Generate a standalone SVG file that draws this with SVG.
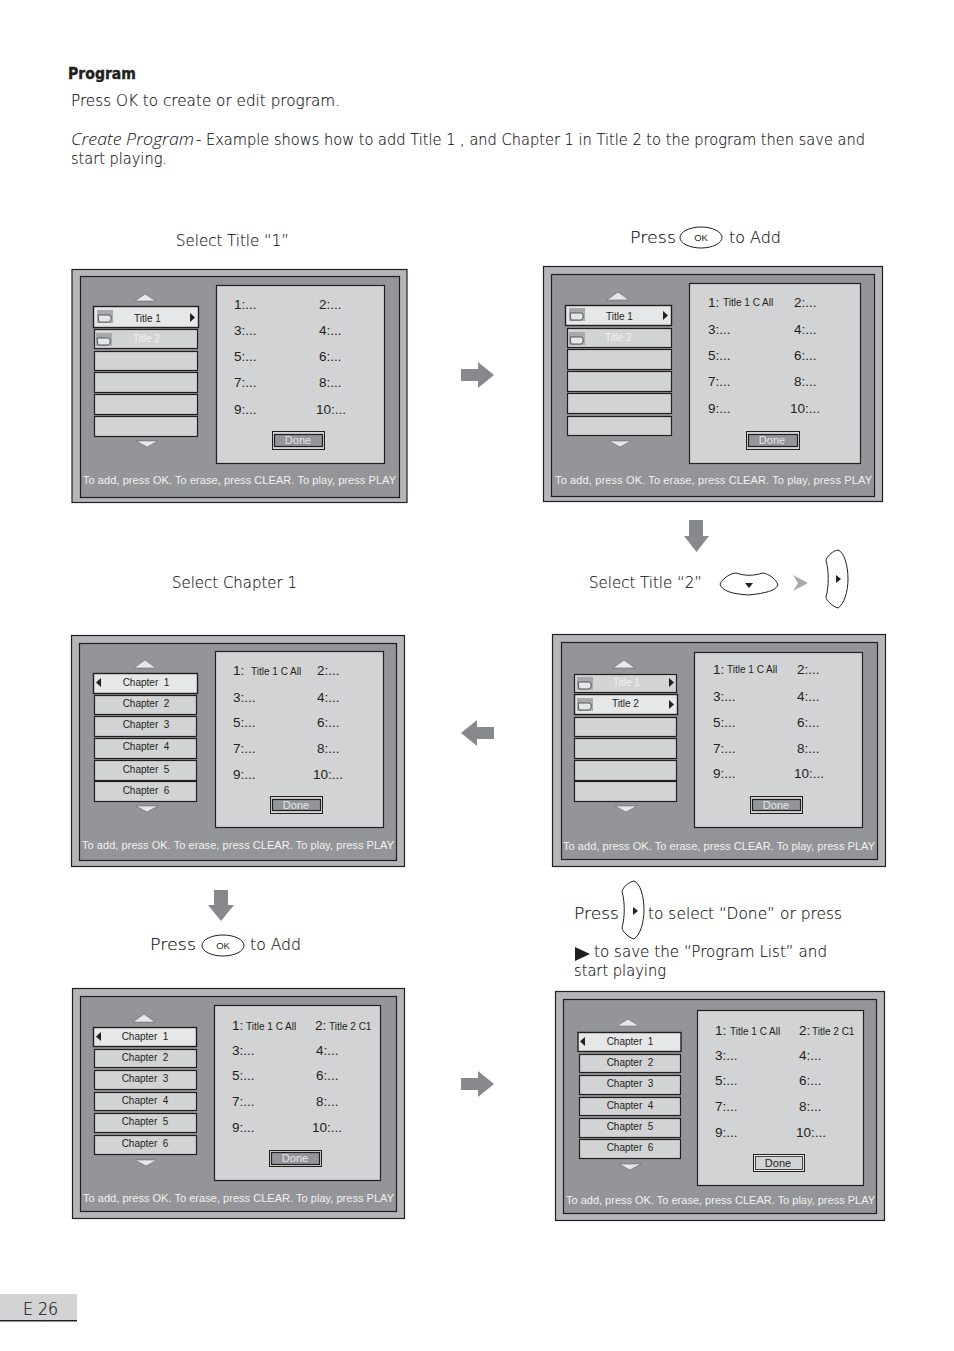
<svg xmlns="http://www.w3.org/2000/svg" xmlns:xlink="http://www.w3.org/1999/xlink" width="954" height="1351" viewBox="0 0 954 1351">
<style>
text{font-family:"Liberation Sans",Arial,sans-serif;fill:#231f20}
.h{font-family:"DejaVu Sans",sans-serif;font-weight:200;font-size:15px;fill:#111;stroke:#111;stroke-width:.15}
.it{font-family:"Open Sans",sans-serif;font-weight:300;font-style:italic;font-size:16px;fill:#111}
.o{fill:#b5b6b9;stroke:#231f20;stroke-width:1.2}
.i{fill:#939598;stroke:#231f20;stroke-width:1.2}
.b{fill:#d1d3d4;stroke:#231f20;stroke-width:1.2}
.r{fill:#d1d3d4;stroke:#231f20;stroke-width:1.2}
.s{fill:#e6e7e8;stroke:#231f20;stroke-width:1.4}
.a{fill:#e6e7e8;stroke:#58595b;stroke-width:.5}
.f{font-size:11px;fill:#f1f2f2}
.n{font-size:13.5px}
.m{font-size:10px}
.t{font-size:10px;text-anchor:middle;white-space:pre}
.w{fill:#f1f2f2}
.d{fill:#939598;stroke:#231f20;stroke-width:1.2}
.df{fill:none;stroke:#231f20;stroke-width:1}
.dt{font-size:11px;fill:#e6e7e8;text-anchor:middle}
.g{fill:#87898c}
.k{fill:#231f20}
.l{fill:none;stroke:#231f20;stroke-width:1}
</style>
<defs>
<g id="fold"><rect x="0" y="0" width="16" height="13" fill="#a7a9ac"/><path d="M1 5h11l2 1v4l-2 2H2z" fill="#e6e7e8" stroke="#58595b" stroke-width="1"/></g>
<path id="rock" class="l" d="M838,550C844,552 848,565 848,579C848,592 844,604 838,608C833,607 826,600 826,597C829,585 829,572 826,560C828,555 833,551 838,550Z"/>
<g id="ok"><ellipse cx="21" cy="10.500" rx="21" ry="10.500" fill="#fff" stroke="#231f20" stroke-width="1"/><text x="21" y="14" font-size="9.500px" text-anchor="middle" fill="#414042">OK</text></g>
</defs>
<rect width="954" height="1351" fill="#fff"/>
<g id="header">
<text x="68" y="79" font-size="15px" style="font-family:'DejaVu Sans',sans-serif;font-weight:700;stroke:#231f20;stroke-width:.4" textLength="68" lengthAdjust="spacingAndGlyphs">Program</text>
<text class="h" x="71" y="106" textLength="269" lengthAdjust="spacingAndGlyphs">Press OK to create or edit program.</text>
<text class="it" x="71" y="145" textLength="123" lengthAdjust="spacingAndGlyphs">Create Program</text>
<text class="h" x="196" y="145" textLength="669" lengthAdjust="spacingAndGlyphs">- Example shows how to add Title 1 , and Chapter 1 in Title 2 to the program  then save and</text>
<text class="h" x="71" y="164" textLength="96" lengthAdjust="spacingAndGlyphs">start playing.</text>
</g>
<g id="captions">
<text class="h" x="176" y="246" textLength="113" lengthAdjust="spacingAndGlyphs">Select Title “1”</text>
<text class="h" x="630" y="243" textLength="46" lengthAdjust="spacingAndGlyphs">Press</text>
<use xlink:href="#ok" href="#ok" x="680" y="227"/>
<text class="h" x="729" y="243" textLength="52" lengthAdjust="spacingAndGlyphs">to Add</text>
<text class="h" x="172" y="588" textLength="125" lengthAdjust="spacingAndGlyphs">Select Chapter 1</text>
<text class="h" x="589" y="588" textLength="113" lengthAdjust="spacingAndGlyphs">Select Title “2”</text>
<path class="l" d="M720,584C723,578 731,573 736,573C745,576 753,576 763,573C769,574 776,579 778,585C775,591 766,593 749,595C732,594 722,591 720,584Z"/>
<path class="k" d="M745,583h8l-4,5z"/>
<path d="M793,575L808,583L793,591L798,583Z" fill="#a7a9ac"/>
<use xlink:href="#rock" href="#rock"/>
<path class="k" d="M836,575l5,4l-5,4z"/>
<text class="h" x="150" y="950" textLength="46" lengthAdjust="spacingAndGlyphs">Press</text>
<use xlink:href="#ok" href="#ok" x="202" y="935"/>
<text class="h" x="250" y="950" textLength="51" lengthAdjust="spacingAndGlyphs">to Add</text>
<text class="h" x="574" y="919" textLength="45" lengthAdjust="spacingAndGlyphs">Press</text>
<use xlink:href="#rock" href="#rock" x="-204" y="331"/>
<path class="k" d="M633,907l5,4l-5,4z"/>
<text class="h" x="648" y="919" textLength="194" lengthAdjust="spacingAndGlyphs">to select “Done” or press</text>
<path class="k" d="M575,947L590,954L575,961Z"/>
<text class="h" x="594" y="957" textLength="233" lengthAdjust="spacingAndGlyphs">to save the “Program List” and</text>
<text class="h" x="574" y="976" textLength="92" lengthAdjust="spacingAndGlyphs">start playing</text>
</g>
<g id="connectors">
<path class="g" d="M461,369H478V362L494,375L478,388V381H461Z"/>
<path class="g" d="M689,520H703V536H709L696.500,552L684,536H689Z"/>
<path class="g" d="M494,727H477V720L461,733L477,746V739H494Z"/>
<path class="g" d="M214,890H228V905H234L221,921L208,905H214Z"/>
<path class="g" d="M461,1078H478V1071L494,1084L478,1097V1090H461Z"/>
</g>
<g id="panel1">
<rect class="o" x="72" y="269.500" width="335" height="233"/><rect class="i" x="80.500" y="276.500" width="319" height="221"/><rect class="b" x="216.500" y="285.500" width="168" height="178"/>
<path class="a" d="M135,301L145,294L156,301Z"/><path class="a" d="M136,441H158L147,447Z"/>
<rect class="s" x="93.500" y="306.500" width="105" height="21"/><rect class="r" x="94.500" y="329.500" width="103" height="19"/><rect class="r" x="94.500" y="351.500" width="103" height="19"/><rect class="r" x="94.500" y="372.500" width="103" height="20"/><rect class="r" x="94.500" y="394.500" width="103" height="20"/><rect class="r" x="94.500" y="416.500" width="103" height="20"/>
<use xlink:href="#fold" href="#fold" x="97" y="310"/><use xlink:href="#fold" href="#fold" x="96" y="333"/>
<text class="m" x="134" y="322">Title 1</text><text class="m w" x="133" y="342">Title 2</text><path class="k" d="M190,313l5,4.500l-5,4.500z"/>
<text class="n" x="234" y="309">1:...</text><text class="n" x="319" y="309">2:...</text><text class="n" x="234" y="335">3:...</text><text class="n" x="319" y="335">4:...</text><text class="n" x="234" y="361">5:...</text><text class="n" x="319" y="361">6:...</text><text class="n" x="234" y="387">7:...</text><text class="n" x="319" y="387">8:...</text><text class="n" x="234" y="414">9:...</text><text class="n" x="316" y="414">10:...</text>
<rect class="df" x="272.500" y="431.500" width="52" height="18"/><rect class="d" x="274.500" y="434.500" width="48" height="12"/><text class="dt" x="298" y="444">Done</text>
<text class="f" x="83" y="484" textLength="313" lengthAdjust="spacing">To add, press OK. To erase, press CLEAR. To play, press PLAY</text>
</g>
<g id="panel2">
<rect class="o" x="543.500" y="266.500" width="339" height="235"/><rect class="i" x="551.500" y="274.500" width="323" height="222"/><rect class="b" x="689.500" y="283.500" width="171" height="180"/>
<path class="a" d="M607,300L618,292L629,300Z"/><path class="a" d="M609,441H631L620,447Z"/>
<rect class="s" x="565.500" y="305.500" width="106" height="20"/><rect class="r" x="567.500" y="328.500" width="104" height="19"/><rect class="r" x="567.500" y="349.500" width="104" height="20"/><rect class="r" x="567.500" y="371.500" width="104" height="20"/><rect class="r" x="567.500" y="393.500" width="104" height="20"/><rect class="r" x="567.500" y="416.500" width="104" height="19"/>
<use xlink:href="#fold" href="#fold" x="569" y="308"/><use xlink:href="#fold" href="#fold" x="569" y="332"/>
<text class="m" x="606" y="320">Title 1</text><text class="m w" x="605" y="341">Title 2</text><path class="k" d="M663,311l5,4.500l-5,4.500z"/>
<text class="n" x="708" y="307">1:</text><text class="m" x="723" y="306">Title 1 C All</text><text class="n" x="794" y="307">2:...</text><text class="n" x="708" y="334">3:...</text><text class="n" x="794" y="334">4:...</text><text class="n" x="708" y="360">5:...</text><text class="n" x="794" y="360">6:...</text><text class="n" x="708" y="386">7:...</text><text class="n" x="794" y="386">8:...</text><text class="n" x="708" y="413">9:...</text><text class="n" x="790" y="413">10:...</text>
<rect class="df" x="746.500" y="431.500" width="53" height="18"/><rect class="d" x="748.500" y="434.500" width="49" height="12"/><text class="dt" x="772" y="444">Done</text>
<text class="f" x="555" y="484" textLength="317" lengthAdjust="spacing">To add, press OK. To erase, press CLEAR. To play, press PLAY</text>
</g>
<g id="panel3">
<rect class="o" x="71.500" y="635.500" width="333" height="231"/><rect class="i" x="79.500" y="643.500" width="317" height="217"/><rect class="b" x="215.500" y="651.500" width="168" height="176"/>
<path class="a" d="M134,668L145,660L156,668Z"/><path class="a" d="M136,806H158L147,812Z"/>
<rect class="s" x="93.500" y="673.500" width="104" height="20"/><rect class="r" x="94.500" y="695.500" width="102" height="19"/><rect class="r" x="94.500" y="716.500" width="102" height="20"/><rect class="r" x="94.500" y="738.500" width="102" height="20"/><rect class="r" x="94.500" y="760.500" width="102" height="20"/><rect class="r" x="94.500" y="781.500" width="102" height="20"/>
<text class="t" x="146" y="686">Chapter  1</text><text class="t" x="146" y="707">Chapter  2</text><text class="t" x="146" y="728">Chapter  3</text><text class="t" x="146" y="750">Chapter  4</text><text class="t" x="146" y="773">Chapter  5</text><text class="t" x="146" y="794">Chapter  6</text><path class="k" d="M101,678l-5,4.500l5,4.500z"/>
<text class="n" x="233" y="675">1:</text><text class="m" x="251" y="675">Title 1 C All</text><text class="n" x="317" y="675">2:...</text><text class="n" x="233" y="702">3:...</text><text class="n" x="317" y="702">4:...</text><text class="n" x="233" y="727">5:...</text><text class="n" x="317" y="727">6:...</text><text class="n" x="233" y="753">7:...</text><text class="n" x="317" y="753">8:...</text><text class="n" x="233" y="779">9:...</text><text class="n" x="313" y="779">10:...</text>
<rect class="df" x="270.500" y="796.500" width="52" height="17"/><rect class="d" x="272.500" y="799.500" width="48" height="11"/><text class="dt" x="296" y="809">Done</text>
<text class="f" x="82" y="849" textLength="312" lengthAdjust="spacing">To add, press OK. To erase, press CLEAR. To play, press PLAY</text>
</g>
<g id="panel4">
<rect class="o" x="552.500" y="634.500" width="333" height="232"/><rect class="i" x="561.500" y="642.500" width="316" height="217"/><rect class="b" x="694.500" y="652.500" width="168" height="175"/>
<path class="a" d="M613,668L624,660L635,668Z"/><path class="a" d="M615,806H637L626,812Z"/>
<rect class="r" x="574.500" y="674.500" width="102" height="18"/><rect class="s" x="574.500" y="694.500" width="103" height="20"/><rect class="r" x="574.500" y="717.500" width="102" height="19"/><rect class="r" x="574.500" y="738.500" width="102" height="20"/><rect class="r" x="574.500" y="760.500" width="102" height="20"/><rect class="r" x="574.500" y="781.500" width="102" height="20"/>
<use xlink:href="#fold" href="#fold" x="577" y="677"/><use xlink:href="#fold" href="#fold" x="577" y="698"/>
<text class="m w" x="613" y="686">Title 1</text><text class="m" x="612" y="707">Title 2</text><path class="k" d="M669,678l5,4.500l-5,4.500z"/><path class="k" d="M669,700l5,4.500l-5,4.500z"/>
<text class="n" x="713" y="674">1:</text><text class="m" x="727" y="673">Title 1 C All</text><text class="n" x="797" y="674">2:...</text><text class="n" x="713" y="701">3:...</text><text class="n" x="797" y="701">4:...</text><text class="n" x="713" y="727">5:...</text><text class="n" x="797" y="727">6:...</text><text class="n" x="713" y="753">7:...</text><text class="n" x="797" y="753">8:...</text><text class="n" x="713" y="778">9:...</text><text class="n" x="794" y="778">10:...</text>
<rect class="df" x="750.500" y="796.500" width="52" height="17"/><rect class="d" x="752.500" y="799.500" width="48" height="11"/><text class="dt" x="776" y="809">Done</text>
<text class="f" x="563" y="850" textLength="312" lengthAdjust="spacing">To add, press OK. To erase, press CLEAR. To play, press PLAY</text>
</g>
<g id="panel5">
<rect class="o" x="72.500" y="988.500" width="332" height="230"/><rect class="i" x="80.500" y="996.500" width="316" height="215"/><rect class="b" x="214.500" y="1005.500" width="166" height="175"/>
<path class="a" d="M133,1022L144,1014L155,1022Z"/><path class="a" d="M135,1160H157L146,1166Z"/>
<rect class="s" x="93.500" y="1027.500" width="103" height="19"/><rect class="r" x="94.500" y="1049.500" width="102" height="18"/><rect class="r" x="94.500" y="1070.500" width="102" height="19"/><rect class="r" x="94.500" y="1092.500" width="102" height="18"/><rect class="r" x="94.500" y="1113.500" width="102" height="19"/><rect class="r" x="94.500" y="1135.500" width="102" height="19"/>
<text class="t" x="145" y="1040">Chapter  1</text><text class="t" x="145" y="1061">Chapter  2</text><text class="t" x="145" y="1082">Chapter  3</text><text class="t" x="145" y="1104">Chapter  4</text><text class="t" x="145" y="1125">Chapter  5</text><text class="t" x="145" y="1147">Chapter  6</text><path class="k" d="M101,1032l-5,4.500l5,4.500z"/>
<text class="n" x="232" y="1030">1:</text><text class="m" x="246" y="1030">Title 1 C All</text><text class="n" x="315" y="1030">2:</text><text class="m" x="329" y="1030">Title 2 C1</text><text class="n" x="232" y="1055">3:...</text><text class="n" x="316" y="1055">4:...</text><text class="n" x="232" y="1080">5:...</text><text class="n" x="316" y="1080">6:...</text><text class="n" x="232" y="1106">7:...</text><text class="n" x="316" y="1106">8:...</text><text class="n" x="232" y="1132">9:...</text><text class="n" x="312" y="1132">10:...</text>
<rect class="df" x="269.500" y="1150.500" width="52" height="16"/><rect class="d" x="271.500" y="1152.500" width="48" height="12"/><text class="dt" x="295" y="1162">Done</text>
<text class="f" x="83" y="1202" textLength="311" lengthAdjust="spacing">To add, press OK. To erase, press CLEAR. To play, press PLAY</text>
</g>
<g id="panel6">
<rect class="o" x="555.500" y="991.500" width="329" height="229"/><rect class="i" x="563.500" y="999.500" width="313" height="214"/><rect class="b" x="697.500" y="1010.500" width="166" height="175"/>
<path class="a" d="M617,1026L628,1019L639,1026Z"/><path class="a" d="M619,1164H641L630,1170Z"/>
<rect class="s" x="578" y="1032.500" width="103" height="19"/><rect class="r" x="579.500" y="1054.500" width="101" height="18"/><rect class="r" x="579.500" y="1075.500" width="101" height="19"/><rect class="r" x="579.500" y="1097.500" width="101" height="18"/><rect class="r" x="579.500" y="1118.500" width="101" height="19"/><rect class="r" x="579.500" y="1139.500" width="101" height="19"/>
<text class="t" x="630" y="1045">Chapter  1</text><text class="t" x="630" y="1066">Chapter  2</text><text class="t" x="630" y="1087">Chapter  3</text><text class="t" x="630" y="1109">Chapter  4</text><text class="t" x="630" y="1130">Chapter  5</text><text class="t" x="630" y="1151">Chapter  6</text><path class="k" d="M585,1037l-5,4.500l5,4.500z"/>
<text class="n" x="715" y="1035">1:</text><text class="m" x="730" y="1035">Title 1 C All</text><text class="n" x="799" y="1035">2:</text><text class="m" x="812" y="1035">Title 2 C1</text><text class="n" x="715" y="1060">3:...</text><text class="n" x="799" y="1060">4:...</text><text class="n" x="715" y="1085">5:...</text><text class="n" x="799" y="1085">6:...</text><text class="n" x="715" y="1111">7:...</text><text class="n" x="799" y="1111">8:...</text><text class="n" x="715" y="1137">9:...</text><text class="n" x="796" y="1137">10:...</text>
<rect x="753.500" y="1154.500" width="51" height="17" fill="#e6e7e8" stroke="#231f20"/><rect x="755.500" y="1156.500" width="47" height="13" fill="#d1d3d4" stroke="#231f20" stroke-width=".8"/><text x="778" y="1167" font-size="11px" text-anchor="middle">Done</text>
<text class="f" x="566" y="1204" textLength="309" lengthAdjust="spacing">To add, press OK. To erase, press CLEAR. To play, press PLAY</text>
</g>
<g id="page">
<rect x="0" y="1294" width="77" height="26" fill="#d1d3d4"/><rect x="0" y="1320" width="77" height="1.500" fill="#231f20"/>
<text class="h" x="23" y="1315" style="font-size:17px" textLength="35" lengthAdjust="spacingAndGlyphs">E 26</text>
</g>
</svg>
